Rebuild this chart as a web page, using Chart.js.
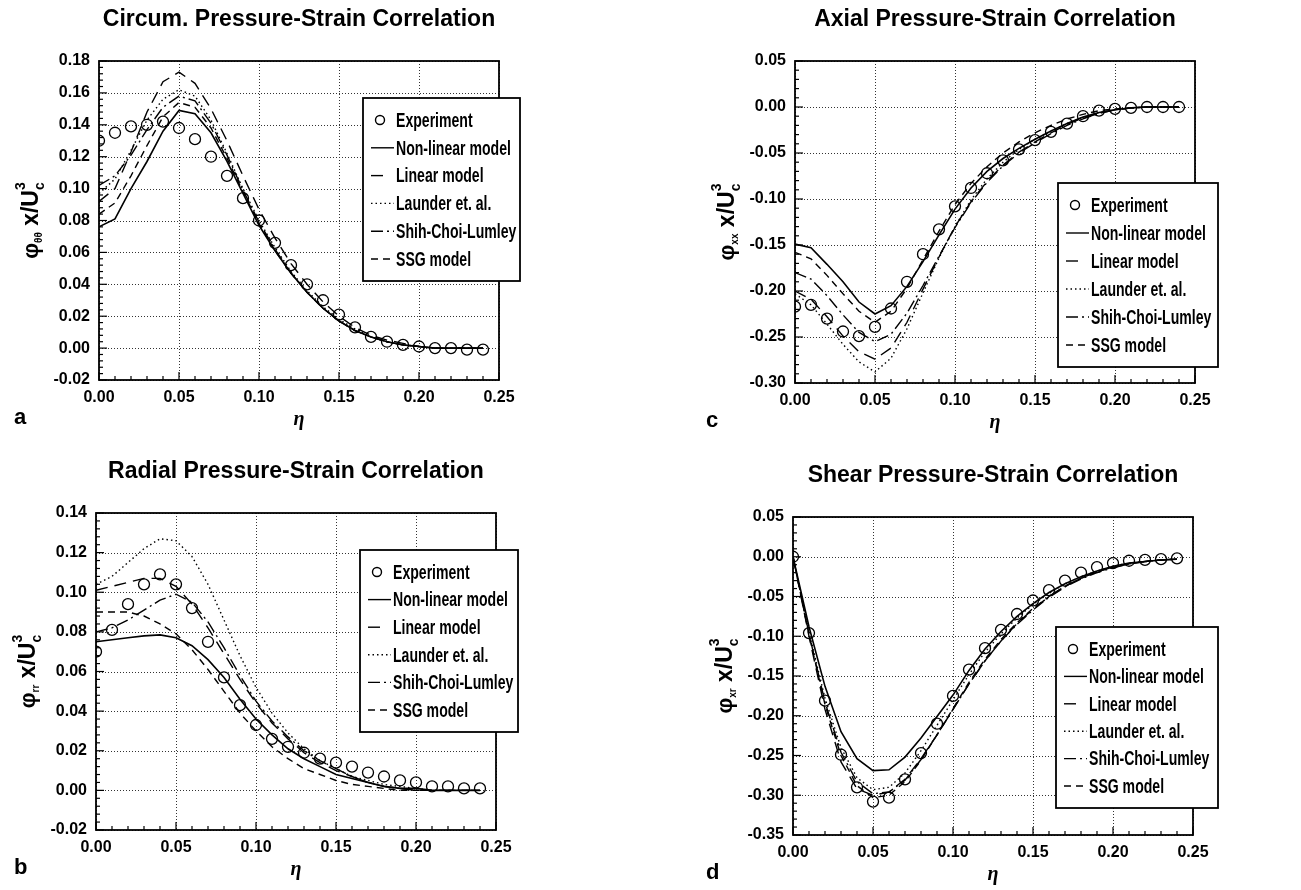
<!DOCTYPE html>
<html>
<head>
<meta charset="utf-8">
<script src="https://cdn.jsdelivr.net/npm/chart.js@4.4.1/dist/chart.umd.min.js"></script>
<style>
  html, body { margin: 0; padding: 0; background: #fff; }
  body { width: 1301px; height: 890px; position: relative; overflow: hidden; }
  canvas { position: absolute; }
</style>
</head>
<body>
<script>
// eta positions shared by all panels
const ETA = [0.00, 0.01, 0.02, 0.03, 0.04, 0.05, 0.06, 0.07, 0.08, 0.09, 0.10, 0.11, 0.12,
  0.13, 0.14, 0.15, 0.16, 0.17, 0.18, 0.19, 0.20, 0.21, 0.22, 0.23, 0.24];
const seriesNames = ["Experiment", "Non-linear model", "Linear model", "Launder et. al.", "Shih-Choi-Lumley", "SSG model"];

// axis ranges [min, max, step]
const xTicks = [0, 0.25, 0.05];
const circTicks = [-0.02, 0.18, 0.02];
const axialTicks = [-0.30, 0.05, 0.05];
const radialTicks = [-0.02, 0.14, 0.02];
const shearTicks = [-0.35, 0.05, 0.05];

// a - circumferential
const circExp = [0.130, 0.135, 0.139, 0.140, 0.142, 0.138, 0.131, 0.120, 0.108, 0.094, 0.080, 0.066, 0.052, 0.040, 0.030, 0.021, 0.013, 0.007, 0.004, 0.002, 0.001, 0.000, 0.000, -0.001, -0.001];
const circNonlin = [0.076, 0.081, 0.100, 0.117, 0.136, 0.149, 0.147, 0.135, 0.117, 0.097, 0.077, 0.061, 0.047, 0.035, 0.025, 0.017, 0.011, 0.007, 0.004, 0.002, 0.001, 0.000, 0.000, 0.000, 0.000];
const circLinear = [0.092, 0.100, 0.123, 0.148, 0.167, 0.173, 0.166, 0.150, 0.130, 0.108, 0.087, 0.069, 0.053, 0.040, 0.029, 0.020, 0.013, 0.008, 0.005, 0.003, 0.001, 0.000, 0.000, 0.000, 0.000];
const circLaunder = [0.097, 0.106, 0.124, 0.143, 0.156, 0.162, 0.158, 0.143, 0.122, 0.100, 0.080, 0.063, 0.048, 0.036, 0.026, 0.018, 0.012, 0.007, 0.004, 0.002, 0.001, 0.000, 0.000, 0.000, 0.000];
const circShih = [0.102, 0.108, 0.121, 0.137, 0.151, 0.158, 0.155, 0.141, 0.121, 0.099, 0.079, 0.062, 0.047, 0.035, 0.025, 0.017, 0.011, 0.007, 0.004, 0.002, 0.001, 0.000, 0.000, 0.000, 0.000];
const circSsg = [0.084, 0.091, 0.108, 0.127, 0.145, 0.154, 0.151, 0.138, 0.119, 0.098, 0.078, 0.061, 0.047, 0.035, 0.025, 0.017, 0.011, 0.007, 0.004, 0.002, 0.001, 0.000, 0.000, 0.000, 0.000];

// c - axial
const axialExp = [-0.217, -0.215, -0.230, -0.244, -0.249, -0.239, -0.219, -0.190, -0.160, -0.133, -0.108, -0.088, -0.072, -0.058, -0.046, -0.036, -0.027, -0.018, -0.010, -0.004, -0.002, -0.001, 0.000, 0.000, 0.000];
const axialNonlin = [-0.149, -0.153, -0.171, -0.190, -0.212, -0.225, -0.216, -0.195, -0.168, -0.139, -0.111, -0.088, -0.070, -0.056, -0.045, -0.035, -0.026, -0.018, -0.011, -0.006, -0.003, -0.001, 0.000, 0.000, 0.000];
const axialLinear = [-0.200, -0.209, -0.228, -0.249, -0.266, -0.274, -0.262, -0.234, -0.198, -0.163, -0.130, -0.103, -0.081, -0.063, -0.049, -0.038, -0.028, -0.019, -0.012, -0.007, -0.003, -0.001, 0.000, 0.000, 0.000];
const axialLaunder = [-0.203, -0.215, -0.236, -0.258, -0.277, -0.288, -0.273, -0.241, -0.202, -0.164, -0.130, -0.101, -0.078, -0.060, -0.046, -0.035, -0.026, -0.018, -0.011, -0.006, -0.003, -0.001, 0.000, 0.000, 0.000];
const axialShih = [-0.180, -0.187, -0.205, -0.226, -0.245, -0.255, -0.247, -0.224, -0.194, -0.162, -0.131, -0.104, -0.082, -0.064, -0.050, -0.039, -0.029, -0.020, -0.013, -0.007, -0.003, -0.001, 0.000, 0.000, 0.000];
const axialSsg = [-0.158, -0.165, -0.183, -0.203, -0.222, -0.234, -0.222, -0.197, -0.166, -0.135, -0.106, -0.083, -0.065, -0.050, -0.038, -0.028, -0.020, -0.013, -0.008, -0.004, -0.002, -0.001, 0.000, 0.000, 0.000];

// b - radial
const radialExp = [0.070, 0.081, 0.094, 0.104, 0.109, 0.104, 0.092, 0.075, 0.057, 0.043, 0.033, 0.026, 0.022, 0.019, 0.016, 0.014, 0.012, 0.009, 0.007, 0.005, 0.004, 0.002, 0.002, 0.001, 0.001];
const radialNonlin = [0.075, 0.076, 0.077, 0.078, 0.0785, 0.077, 0.073, 0.066, 0.057, 0.046, 0.036, 0.028, 0.021, 0.016, 0.012, 0.008, 0.006, 0.004, 0.002, 0.001, 0.001, 0.000, 0.000, 0.000, 0.000];
const radialLinear = [0.101, 0.103, 0.105, 0.107, 0.107, 0.103, 0.094, 0.082, 0.069, 0.056, 0.044, 0.034, 0.026, 0.019, 0.014, 0.010, 0.007, 0.004, 0.002, 0.001, 0.000, 0.000, 0.000, 0.000, 0.000];
const radialLaunder = [0.104, 0.108, 0.115, 0.122, 0.127, 0.126, 0.118, 0.104, 0.086, 0.068, 0.052, 0.039, 0.029, 0.021, 0.015, 0.011, 0.007, 0.005, 0.003, 0.002, 0.001, 0.000, 0.000, 0.000, 0.000];
const radialShih = [0.080, 0.082, 0.086, 0.091, 0.096, 0.099, 0.095, 0.085, 0.072, 0.058, 0.045, 0.035, 0.027, 0.020, 0.015, 0.011, 0.007, 0.004, 0.002, 0.001, 0.000, 0.000, 0.000, 0.000, 0.000];
const radialSsg = [0.090, 0.090, 0.090, 0.088, 0.084, 0.079, 0.071, 0.061, 0.050, 0.039, 0.030, 0.022, 0.016, 0.011, 0.008, 0.005, 0.003, 0.002, 0.001, 0.000, 0.000, 0.000, 0.000, 0.000, 0.000];

// d - shear
const shearExp = [0.000, -0.096, -0.181, -0.249, -0.290, -0.308, -0.303, -0.280, -0.247, -0.210, -0.175, -0.142, -0.115, -0.092, -0.072, -0.055, -0.042, -0.030, -0.020, -0.013, -0.008, -0.005, -0.004, -0.003, -0.002];
const shearNonlin = [0.000, -0.088, -0.163, -0.220, -0.254, -0.269, -0.268, -0.252, -0.228, -0.201, -0.174, -0.143, -0.116, -0.094, -0.075, -0.059, -0.045, -0.034, -0.025, -0.018, -0.012, -0.008, -0.006, -0.004, -0.003];
const shearLinear = [0.000, -0.100, -0.192, -0.258, -0.292, -0.300, -0.296, -0.280, -0.254, -0.224, -0.192, -0.160, -0.131, -0.106, -0.084, -0.066, -0.050, -0.037, -0.027, -0.019, -0.013, -0.009, -0.006, -0.004, -0.003];
const shearLaunder = [0.000, -0.095, -0.178, -0.240, -0.278, -0.293, -0.290, -0.272, -0.244, -0.212, -0.180, -0.148, -0.120, -0.097, -0.077, -0.060, -0.046, -0.034, -0.025, -0.018, -0.012, -0.008, -0.006, -0.004, -0.003];
const shearShih = [0.000, -0.097, -0.183, -0.246, -0.283, -0.298, -0.296, -0.281, -0.255, -0.224, -0.192, -0.160, -0.131, -0.106, -0.085, -0.067, -0.051, -0.038, -0.028, -0.020, -0.014, -0.009, -0.006, -0.004, -0.003];
const shearSsg = [0.000, -0.098, -0.186, -0.250, -0.288, -0.303, -0.300, -0.283, -0.256, -0.224, -0.191, -0.158, -0.129, -0.104, -0.083, -0.065, -0.050, -0.037, -0.027, -0.019, -0.013, -0.009, -0.006, -0.004, -0.003];

const FONT = '"Liberation Sans", Arial, Helvetica, sans-serif';
const lineDashes = [null, [], [12, 7], [1.5, 3], [12, 4, 2, 4], [7, 5]];

// page geometry of each panel
const panels = [
  { id: 'pa', box: [0, 0, 650, 445], plot: [99, 61, 499, 380], legend: [363, 98, 520, 281],
    title: 'Circum. Pressure-Strain Correlation', sub: 'θθ', letter: 'a', range: circTicks,
    series: [circExp, circNonlin, circLinear, circLaunder, circShih, circSsg] },
  { id: 'pc', box: [650, 0, 651, 445], plot: [795, 61, 1195, 383], legend: [1058, 183, 1218, 367],
    title: 'Axial Pressure-Strain Correlation', sub: 'xx', letter: 'c', range: axialTicks,
    series: [axialExp, axialNonlin, axialLinear, axialLaunder, axialShih, axialSsg] },
  { id: 'pb', box: [0, 445, 650, 445], plot: [96, 513, 496, 830], legend: [360, 550, 518, 732],
    title: 'Radial Pressure-Strain Correlation', sub: 'rr', letter: 'b', range: radialTicks,
    series: [radialExp, radialNonlin, radialLinear, radialLaunder, radialShih, radialSsg] },
  { id: 'pd', box: [650, 445, 651, 445], plot: [793, 517, 1193, 835], legend: [1056, 627, 1218, 808],
    title: 'Shear Pressure-Strain Correlation', sub: 'xr', letter: 'd', range: shearTicks,
    series: [shearExp, shearNonlin, shearLinear, shearLaunder, shearShih, shearSsg] }
];

function line(ctx, x1, y1, x2, y2) {
  ctx.beginPath(); ctx.moveTo(x1, y1); ctx.lineTo(x2, y2); ctx.stroke();
}

function narrowText(ctx, txt, x, y, sx) {
  ctx.save(); ctx.translate(x, y); ctx.scale(sx, 1); ctx.fillText(txt, 0, 0); ctx.restore();
}

function fmt(v) {
  return Math.abs(v) < 1e-9 ? '0.00' : v.toFixed(2);
}

// rotated y title: phi_sub x/U_c^3
function drawYLabel(ctx, cx, cy, sub) {
  const parts = [
    { t: 'φ', f: 'bold 22px ' + FONT, dy: 0 },
    { t: sub, f: 'bold 10px ' + FONT, dy: 7 },
    { t: ' x/U', f: 'bold 23px ' + FONT, dy: 0 },
    { t: 'c', f: 'bold 14px ' + FONT, dy: 8, stack: true },
    { t: '3', f: 'bold 14px ' + FONT, dy: -11 }
  ];
  ctx.save();
  ctx.translate(cx, cy);
  ctx.rotate(-Math.PI / 2);
  ctx.fillStyle = '#000';
  ctx.textBaseline = 'middle';
  ctx.textAlign = 'left';
  let total = 0;
  parts.forEach(p => { ctx.font = p.f; p.w = ctx.measureText(p.t).width; if (!p.stack) total += p.w; });
  let u = -total / 2;
  parts.forEach(p => {
    ctx.font = p.f;
    ctx.fillText(p.t, u, p.dy);
    if (!p.stack) u += p.w;
  });
  ctx.restore();
}

const framePlugin = {
  id: 'frame',
  beforeDatasetsDraw(chart) {
    const ctx = chart.ctx, a = chart.chartArea, xs = chart.scales.x, ys = chart.scales.y;
    ctx.save();
    ctx.strokeStyle = '#333';
    ctx.lineWidth = 1;
    ctx.setLineDash([1, 2]);
    xs.ticks.forEach(t => {
      const x = Math.round(xs.getPixelForValue(t.value)) + 0.5;
      line(ctx, x, a.top, x, a.bottom);
    });
    ys.ticks.forEach(t => {
      const y = Math.round(ys.getPixelForValue(t.value)) + 0.5;
      line(ctx, a.left, y, a.right, y);
    });
    ctx.restore();
  },
  afterDatasetsDraw(chart) {
    const p = panels.find(q => q.id === chart.canvas.id);
    const ctx = chart.ctx, a = chart.chartArea, xs = chart.scales.x, ys = chart.scales.y;
    const ox = p.box[0], oy = p.box[1];
    ctx.save();
    ctx.strokeStyle = '#000';
    ctx.fillStyle = '#000';
    ctx.setLineDash([]);

    // inward tick marks
    ctx.lineWidth = 1.2;
    for (let k = 0; k <= 25; k++) {
      const x = xs.getPixelForValue(xTicks[0] + k * xTicks[2] / 5);
      line(ctx, x, a.bottom, x, a.bottom - (k % 5 === 0 ? 8 : 4));
    }
    const [ymin, ymax, ystep] = p.range;
    const nMinor = Math.round((ymax - ymin) / (ystep / 5));
    for (let k = 0; k <= nMinor; k++) {
      const y = ys.getPixelForValue(ymin + k * ystep / 5);
      line(ctx, a.left, y, a.left + (k % 5 === 0 ? 8 : 4), y);
    }

    // plot frame
    ctx.lineWidth = 1.8;
    ctx.strokeRect(a.left, a.top, a.right - a.left, a.bottom - a.top);

    // legend
    const l = p.legend[0] - ox, t = p.legend[1] - oy, r = p.legend[2] - ox, b = p.legend[3] - oy;
    ctx.fillStyle = '#fff';
    ctx.fillRect(l, t, r - l, b - t);
    ctx.lineWidth = 1.8;
    ctx.strokeRect(l, t, r - l, b - t);
    const gap = (b - t - 44) / 5;
    ctx.fillStyle = '#000';
    ctx.font = 'bold 21px ' + FONT;
    ctx.textBaseline = 'middle';
    ctx.textAlign = 'left';
    seriesNames.forEach((name, i) => {
      const y = t + 22 + i * gap;
      ctx.lineWidth = 1.4;
      if (i === 0) {
        ctx.setLineDash([]);
        ctx.beginPath(); ctx.arc(l + 17, y, 4.5, 0, Math.PI * 2); ctx.stroke();
      } else if (i === 2) {
        ctx.setLineDash([]);
        line(ctx, l + 8, y, l + 20, y);
      } else {
        ctx.setLineDash(lineDashes[i]);
        line(ctx, l + 8, y, l + 31, y);
      }
      ctx.setLineDash([]);
      narrowText(ctx, name, l + 33, y + 1, 0.67);
    });

    // title
    const cx = (a.left + a.right) / 2;
    ctx.font = 'bold 23px ' + FONT;
    ctx.textAlign = 'center';
    ctx.fillText(p.title, cx, a.top - 41);

    // x title and panel letter
    ctx.font = 'italic bold 20px "Liberation Serif", "DejaVu Serif", serif';
    ctx.fillText('η', cx, a.bottom + 40);
    ctx.font = 'bold 22px ' + FONT;
    ctx.textAlign = 'left';
    ctx.fillText(p.letter, (p.letter === 'a' || p.letter === 'b') ? 14 : 56, a.bottom + 38);

    drawYLabel(ctx, a.left - 67, (a.top + a.bottom) / 2, p.sub);
    ctx.restore();
  }
};

panels.forEach(p => {
  const cv = document.createElement('canvas');
  cv.id = p.id;
  cv.width = p.box[2];
  cv.height = p.box[3];
  cv.style.left = p.box[0] + 'px';
  cv.style.top = p.box[1] + 'px';
  document.body.appendChild(cv);

  const pl = p.plot[0] - p.box[0], pt = p.plot[1] - p.box[1];
  const pr = p.plot[2] - p.box[0], pb = p.plot[3] - p.box[1];
  const xH = 32;

  const datasets = p.series.map((vals, i) => {
    const pts = ETA.map((e, j) => ({ x: e, y: vals[j] }));
    if (i === 0) {
      return { label: seriesNames[i], data: pts, showLine: false, pointStyle: 'circle', pointRadius: 5.5,
        pointBorderColor: '#000', pointBackgroundColor: 'rgba(0,0,0,0)', pointBorderWidth: 1.3 };
    }
    return { label: seriesNames[i], data: pts, borderColor: '#000', borderWidth: i === 1 ? 1.6 : 1.4,
      borderDash: lineDashes[i], pointRadius: 0, tension: 0, fill: false };
  });

  const tickFont = { family: FONT, size: 16, weight: 'bold' };
  new Chart(cv, {
    type: 'line',
    data: { datasets },
    options: {
      responsive: false,
      animation: false,
      devicePixelRatio: 1,
      layout: { padding: { left: 0, top: pt, right: p.box[2] - pr, bottom: p.box[3] - pb - xH } },
      plugins: { legend: { display: false }, tooltip: { enabled: false }, title: { display: false } },
      scales: {
        x: {
          type: 'linear', min: xTicks[0], max: xTicks[1],
          afterFit: s => { s.height = xH; },
          ticks: { stepSize: xTicks[2], color: '#000', font: tickFont, padding: 8, maxRotation: 0,
            autoSkip: false, callback: fmt },
          grid: { display: false, drawTicks: false },
          border: { display: false }
        },
        y: {
          type: 'linear', min: p.range[0], max: p.range[1],
          afterFit: s => { s.width = pl; },
          ticks: { stepSize: p.range[2], color: '#000', font: tickFont, padding: 9,
            autoSkip: false, callback: fmt },
          grid: { display: false, drawTicks: false },
          border: { display: false }
        }
      }
    },
    plugins: [framePlugin]
  });
});
</script>
</body>
</html>
